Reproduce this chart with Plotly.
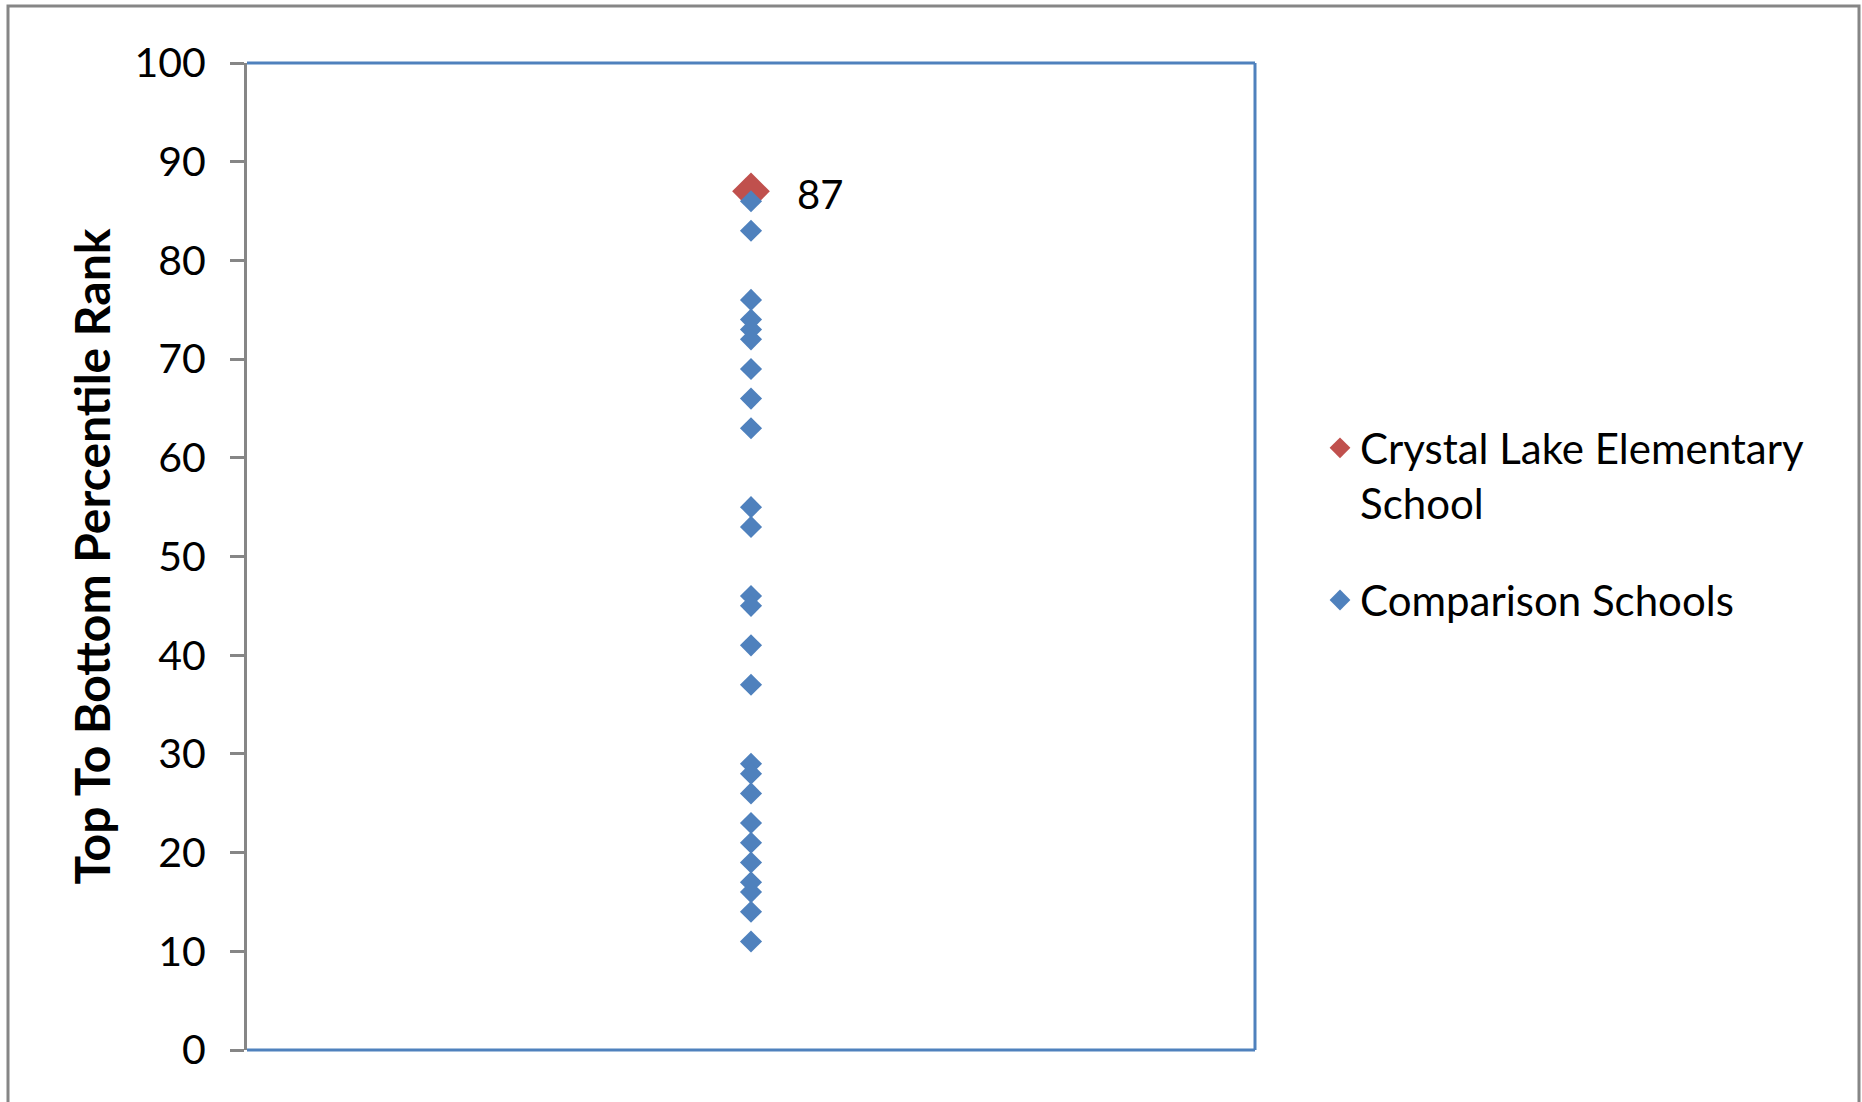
import plotly.graph_objects as go

# Percentile ranks
school_name = "Crystal Lake Elementary<br>School"
school_rank = [87]
comparison_name = "Comparison Schools"
comparison_ranks = [86, 83, 76, 74, 73, 72, 69, 66, 63, 55, 53, 46, 45, 41, 37,
                    29, 28, 26, 23, 21, 19, 17, 16, 14, 11]
y_ticks = [0, 10, 20, 30, 40, 50, 60, 70, 80, 90, 100]

W, H = 1862, 1102
L, R, T, B = 247, 607, 63, 52
PW, PH = W - L - R, H - T - B

BLUE = "#4F81BD"
RED = "#C0504D"
GRAY = "#868686"
FONT = "Lato"


def px_x(px):
    return (px - L) / PW


def px_y(py):
    return (H - B - py) / PH


fig = go.Figure()
fig.add_trace(go.Scatter(
    x=[1] * len(school_rank), y=school_rank, mode="markers", name=school_name,
    legendgroup="a",
    marker=dict(symbol="diamond", size=29, color=RED),
))
fig.add_trace(go.Scatter(
    x=[1] * len(comparison_ranks), y=comparison_ranks, mode="markers",
    name=comparison_name, legendgroup="b",
    marker=dict(symbol="diamond", size=17, color=BLUE),
))

# value label next to the school's marker
fig.add_annotation(x=1, y=school_rank[0], text=str(school_rank[0]),
                   showarrow=False, xanchor="left", xshift=44, yshift=-3,
                   font=dict(family=FONT, size=40, color="black"))

# blue plot frame on top, right and bottom
for x0, y0, x1, y1 in [(0, 1, 1, 1), (1, 0, 1, 1), (0, 0, 1, 0)]:
    fig.add_shape(type="line", xref="paper", yref="paper", x0=x0, y0=y0,
                  x1=x1, y1=y1, line=dict(color=BLUE, width=3))

# outer chart border
fig.add_shape(type="rect", xref="paper", yref="paper",
              x0=px_x(8), x1=px_x(1859), y0=px_y(1112), y1=px_y(6),
              line=dict(color=GRAY, width=3), fillcolor="rgba(0,0,0,0)")

fig.update_layout(
    width=W, height=H,
    margin=dict(l=L, r=R, t=T, b=B, pad=0),
    paper_bgcolor="white", plot_bgcolor="white",
    font=dict(family=FONT, color="black"),
    showlegend=True,
    legend=dict(x=px_x(1320), y=px_y(414), xanchor="left", yanchor="top",
                font=dict(family=FONT, size=42, color="black"),
                valign="top", tracegroupgap=40, bgcolor="rgba(0,0,0,0)"),
    xaxis=dict(range=[0, 2], visible=False, showgrid=False, zeroline=False),
    yaxis=dict(range=[0, 100], tickvals=y_ticks, ticktext=[str(v) for v in y_ticks],
               showgrid=False, zeroline=False, showline=True, linecolor=GRAY,
               linewidth=3, ticks="outside", ticklen=14, tickwidth=3,
               tickcolor=GRAY, tickfont=dict(family=FONT, size=41, color="black"),
               ticklabelstandoff=16,
               title=dict(text="<b>Top To Bottom Percentile Rank</b>",
                          font=dict(family=FONT, size=48, color="black"),
                          standoff=9)),
)

fig.write_html("out.html")
